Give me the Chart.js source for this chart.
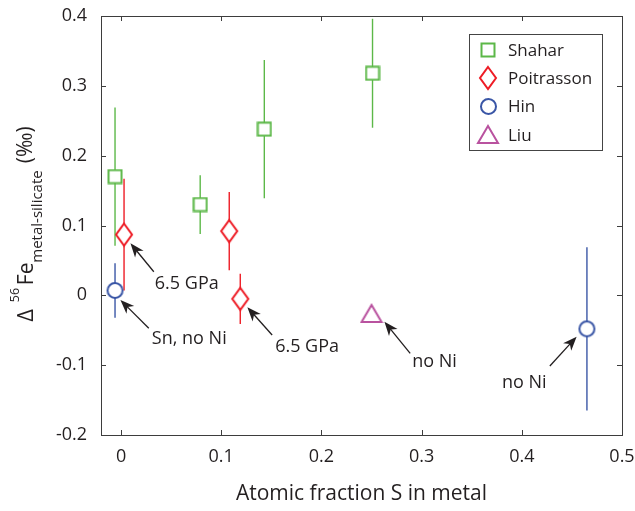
<!DOCTYPE html>
<html>
<head>
<meta charset="utf-8">
<script src="https://cdn.jsdelivr.net/npm/chart.js@4.4.0/dist/chart.umd.min.js"></script>
<style>
  html, body { margin: 0; padding: 0; background: #fff; }
</style>
</head>
<body>
<canvas id="myChart" width="635" height="511"></canvas>
<script>
// data
var shaharX = [-0.006, 0.079, 0.143, 0.251];
var shaharY = [0.170, 0.130, 0.238, 0.318];
var shaharErr = [0.099, 0.042, 0.099, 0.078];

var poitX = [0.003, 0.108, 0.119];
var poitY = [0.087, 0.092, -0.005];
var poitErr = [0.080, 0.056, 0.036];

var hinX = [-0.006, 0.465];
var hinY = [0.007, -0.048];
var hinErr = [0.039, 0.117];

var liuX = [0.25];
var liuY = [-0.026];

var xTicks = [0, 0.1, 0.2, 0.3, 0.4, 0.5];
var yTicks = [-0.2, -0.1, 0, 0.1, 0.2, 0.3, 0.4];

// annotations (data units): arrow tip, arrow tail, text anchor
var noteText  = ["6.5 GPa", "Sn, no Ni", "6.5 GPa", "no Ni", "no Ni"];
var noteTipX  = [0.0094, -0.0006, 0.1261, 0.2629, 0.4547];
var noteTipY  = [0.0745, -0.0067, -0.0172, -0.0378, -0.0593];
var noteTailX = [0.0327, 0.0277, 0.1508, 0.2886, 0.4280];
var noteTailY = [0.0338, -0.0472, -0.0568, -0.0831, -0.1012];
var noteTextX = [0.0337, 0.0307, 0.1538, 0.2906, 0.4247];
var noteTextY = [0.0086, -0.0697, -0.0807, -0.1031, -0.1323];
var noteAlign = ["left", "left", "left", "left", "right"];

var green = "#5cb848", red = "#ee1c25", blue = "#3a56a6", magenta = "#b9529f";
var ink = "#231f20";
var FONT = "'Open Sans', 'Noto Sans', sans-serif";

function marker(kind, color) {
  var c = document.createElement("canvas");
  var g;
  if (kind == "square") { c.width = 16; c.height = 16; }
  if (kind == "diamond") { c.width = 20; c.height = 26; }
  if (kind == "circle") { c.width = 19; c.height = 19; }
  if (kind == "triangle") { c.width = 24; c.height = 21; }
  g = c.getContext("2d");
  g.fillStyle = "#fff";
  g.strokeStyle = color;
  g.lineWidth = 2;
  g.beginPath();
  if (kind == "square") g.rect(1.5, 1.5, 13, 13);
  if (kind == "diamond") { g.moveTo(10, 2); g.lineTo(18, 13); g.lineTo(10, 24); g.lineTo(2, 13); g.closePath(); }
  if (kind == "circle") g.arc(9.5, 9.5, 7.5, 0, Math.PI * 2);
  if (kind == "triangle") { g.moveTo(12, 2); g.lineTo(22, 19); g.lineTo(2, 19); g.closePath(); }
  g.fill();
  g.stroke();
  return c;
}

function pts(xs, ys) {
  return xs.map(function (x, i) { return { x: x, y: ys[i] }; });
}

var errs = [shaharErr, poitErr, hinErr, null];
var colors = [green, red, blue, magenta];

var extras = {
  id: "extras",
  beforeDatasetsDraw: function (chart) {
    var ctx = chart.ctx, a = chart.chartArea;
    var xs = chart.scales.x, ys = chart.scales.y;
    ctx.save();
    // box + inward ticks
    ctx.strokeStyle = "#3d3d3d";
    ctx.lineWidth = 1;
    ctx.strokeRect(Math.round(a.left) + 0.5, Math.round(a.top) + 0.5, Math.round(a.right - a.left), Math.round(a.bottom - a.top));
    ctx.beginPath();
    xTicks.forEach(function (v) {
      var px = Math.round(xs.getPixelForValue(v)) + 0.5;
      ctx.moveTo(px, a.bottom); ctx.lineTo(px, a.bottom - 5);
      ctx.moveTo(px, a.top); ctx.lineTo(px, a.top + 5);
    });
    yTicks.forEach(function (v) {
      var py = Math.round(ys.getPixelForValue(v)) + 0.5;
      ctx.moveTo(a.left, py); ctx.lineTo(a.left + 5, py);
      ctx.moveTo(a.right, py); ctx.lineTo(a.right - 5, py);
    });
    ctx.stroke();
    // error bars
    ctx.beginPath();
    ctx.rect(a.left, a.top, a.right - a.left, a.bottom - a.top);
    ctx.clip();
    ctx.lineWidth = 1.4;
    chart.data.datasets.forEach(function (ds, k) {
      if (!errs[k]) return;
      ctx.strokeStyle = colors[k];
      ds.data.forEach(function (p, i) {
        var px = xs.getPixelForValue(p.x);
        ctx.beginPath();
        ctx.moveTo(px, ys.getPixelForValue(p.y + errs[k][i]));
        ctx.lineTo(px, ys.getPixelForValue(p.y - errs[k][i]));
        ctx.stroke();
      });
    });
    ctx.restore();
  },
  afterDatasetsDraw: function (chart) {
    var ctx = chart.ctx;
    var xs = chart.scales.x, ys = chart.scales.y;
    ctx.save();
    // arrows and notes
    ctx.fillStyle = ink;
    ctx.strokeStyle = ink;
    ctx.font = "18px " + FONT;
    ctx.textBaseline = "alphabetic";
    noteText.forEach(function (t, i) {
      var x1 = xs.getPixelForValue(noteTailX[i]), y1 = ys.getPixelForValue(noteTailY[i]);
      var x2 = xs.getPixelForValue(noteTipX[i]), y2 = ys.getPixelForValue(noteTipY[i]);
      var ang = Math.atan2(y2 - y1, x2 - x1);
      ctx.lineWidth = 1.3;
      ctx.beginPath();
      ctx.moveTo(x1, y1);
      ctx.lineTo(x2 - 8 * Math.cos(ang), y2 - 8 * Math.sin(ang));
      ctx.stroke();
      ctx.save();
      ctx.translate(x2, y2);
      ctx.rotate(ang);
      ctx.beginPath();
      ctx.moveTo(0, 0);
      ctx.lineTo(-14, -5.5);
      ctx.lineTo(-10, 0);
      ctx.lineTo(-14, 5.5);
      ctx.closePath();
      ctx.fill();
      ctx.restore();
      ctx.textAlign = noteAlign[i];
      ctx.fillText(t, xs.getPixelForValue(noteTextX[i]), ys.getPixelForValue(noteTextY[i]));
    });

    // legend box
    ctx.lineWidth = 1;
    ctx.strokeStyle = "#444";
    ctx.strokeRect(469.5, 34.5, 133, 116);
    ctx.font = "17px " + FONT;
    ctx.textAlign = "left";
    ctx.textBaseline = "middle";
    chart.data.datasets.forEach(function (ds, k) {
      var cy = 50 + k * 28.3;
      var img = ds.pointStyle;
      ctx.drawImage(img, Math.round(488 - img.width / 2), Math.round(cy - img.height / 2));
      ctx.fillStyle = ink;
      ctx.fillText(ds.label, 508, cy + 1);
    });

    // y axis title: Δ56Fe metal-silicate (‰)
    ctx.translate(33, 321.7);
    ctx.rotate(-Math.PI / 2);
    ctx.textBaseline = "alphabetic";
    ctx.fillStyle = ink;
    ctx.font = "22px " + FONT;
    ctx.fillText("\u0394", 0, 0);
    ctx.font = "12.5px " + FONT;
    ctx.fillText("56", 19.5, -14);
    ctx.font = "21px " + FONT;
    ctx.fillText("Fe", 36.5, 0);
    ctx.font = "15px " + FONT;
    ctx.fillText("metal-silicate", 59, 9);
    ctx.font = "21px " + FONT;
    ctx.fillText("(\u2030)", 158.4, -1);
    ctx.restore();
  }
};

var ctx = document.getElementById("myChart");

function noPad(s) {
  s.paddingLeft = 0; s.paddingRight = 0; s.paddingTop = 0; s.paddingBottom = 0;
}

new Chart(ctx, {
  type: "scatter",
  data: {
    datasets: [
      { label: "Shahar", data: pts(shaharX, shaharY), pointStyle: marker("square", green) },
      { label: "Poitrasson", data: pts(poitX, poitY), pointStyle: marker("diamond", red) },
      { label: "Hin", data: pts(hinX, hinY), pointStyle: marker("circle", blue) },
      { label: "Liu", data: pts(liuX, liuY), pointStyle: marker("triangle", magenta) }
    ]
  },
  options: {
    responsive: false,
    animation: false,
    devicePixelRatio: 1,
    layout: { autoPadding: false, padding: { left: 0, right: 13, top: 16, bottom: 0 } },
    plugins: { legend: { display: false }, tooltip: { enabled: false } },
    scales: {
      x: {
        type: "linear",
        min: -0.02,
        max: 0.5,
        grid: { display: false, drawTicks: false },
        border: { display: false },
        afterBuildTicks: function (s) { s.ticks = xTicks.map(function (v) { return { value: v }; }); },
        afterFit: function (s) { s.height = 76; noPad(s); },
        ticks: {
          padding: 11,
          color: ink,
          font: { family: FONT, size: 18 },
          callback: function (v) { return String(Math.round(v * 10) / 10); }
        },
        title: {
          display: true,
          text: "Atomic fraction S in metal",
          color: ink,
          font: { family: FONT, size: 21 },
          padding: { top: 0, bottom: 4 }
        }
      },
      y: {
        type: "linear",
        min: -0.2,
        max: 0.4,
        grid: { display: false, drawTicks: false },
        border: { display: false },
        afterBuildTicks: function (s) { s.ticks = yTicks.map(function (v) { return { value: v }; }); },
        afterFit: function (s) { s.width = 101; noPad(s); },
        ticks: {
          padding: 14,
          color: ink,
          font: { family: FONT, size: 18 },
          callback: function (v) { return String(Math.round(v * 10) / 10); }
        }
      }
    }
  },
  plugins: [extras]
});
</script>
</body>
</html>
